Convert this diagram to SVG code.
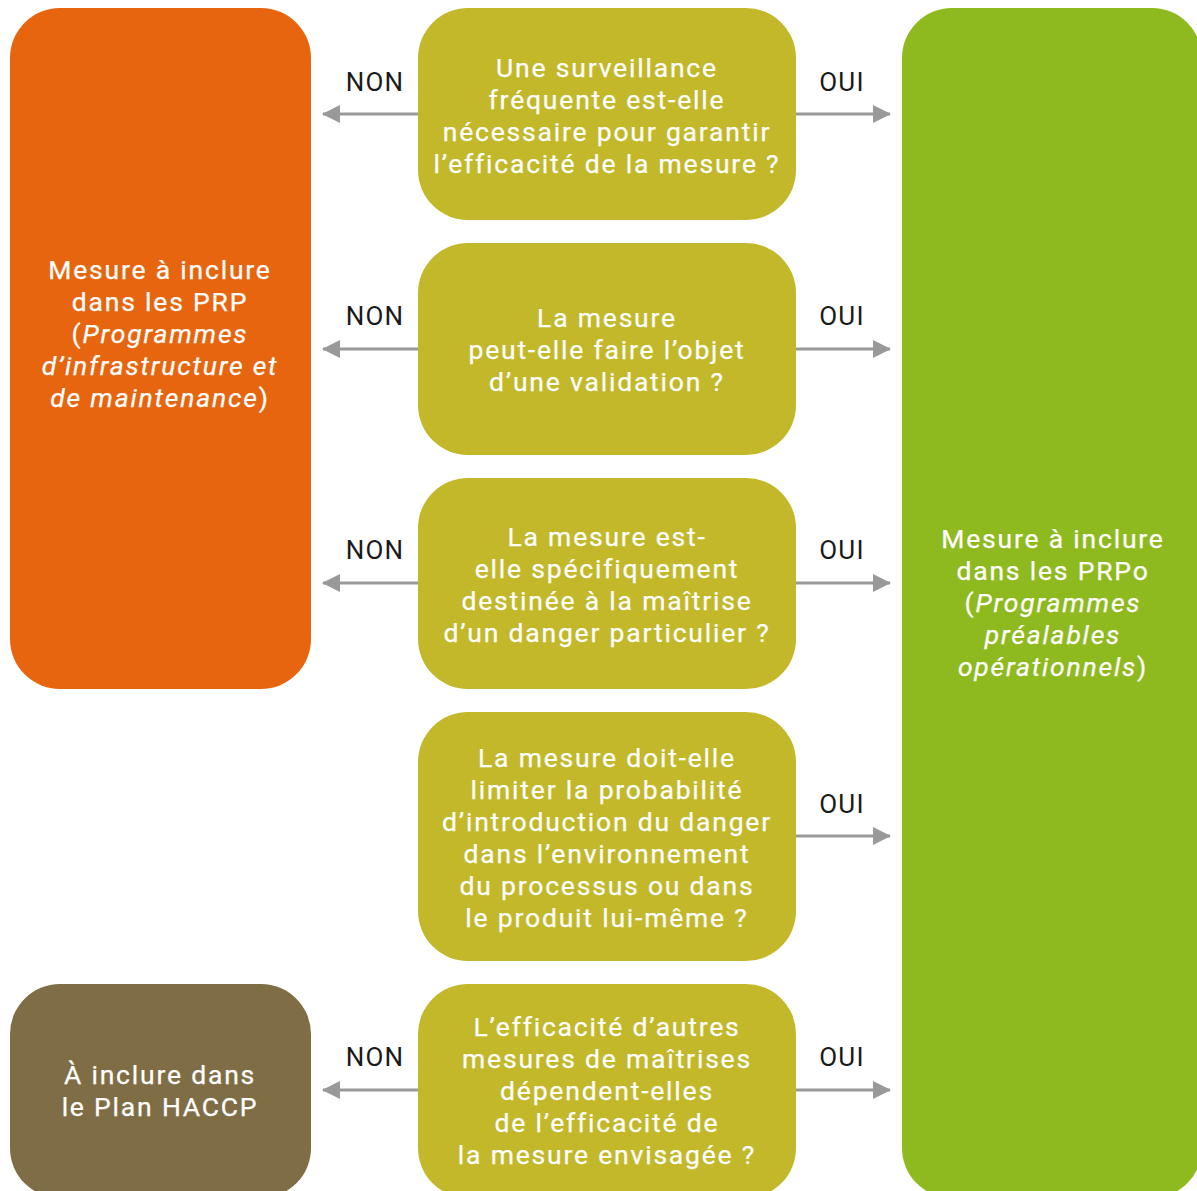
<svg xmlns="http://www.w3.org/2000/svg" width="1197" height="1191" viewBox="0 0 1197 1191">
  <defs>
    <style>
      .t { font-family: Roboto, "DejaVu Sans", sans-serif; font-size: 26.5px; fill: #ffffff; text-anchor: middle; letter-spacing: 1.8px; stroke: #ffffff; stroke-width: 0.25px; }
      .lbl { font-family: Roboto, "DejaVu Sans", sans-serif; font-size: 26px; fill: #1a1a1a; text-anchor: middle; letter-spacing: 1.2px; }
      .q { fill: #C2B82A; }
      .conn { stroke: #999999; stroke-width: 3; fill: none; }
      .i { font-style: italic; }
    </style>
    <marker id="ah" viewBox="0 0 18 18" refX="17" refY="9" markerWidth="18" markerHeight="18" markerUnits="userSpaceOnUse" orient="auto">
      <path d="M0,0 L18,9 L0,18 Z" fill="#999999"/>
    </marker>
  </defs>

  <rect width="1197" height="1191" fill="#ffffff"/>

  <!-- outcome: PRP -->
  <g id="prp">
    <rect x="10" y="8" width="301" height="681" rx="50" fill="#E8650F"/>
    <text class="t" x="160" y="279">Mesure à inclure</text>
    <text class="t" x="160" y="311">dans les PRP</text>
    <text class="t" x="160" y="343">(<tspan class="i">Programmes</tspan></text>
    <text class="t" x="160" y="375"><tspan class="i">d’infrastructure et</tspan></text>
    <text class="t" x="160" y="407"><tspan class="i">de maintenance</tspan>)</text>
  </g>

  <!-- outcome: HACCP -->
  <g id="haccp">
    <rect x="10" y="984" width="301" height="214" rx="50" fill="#7F6E45"/>
    <text class="t" x="160" y="1084">À inclure dans</text>
    <text class="t" x="160" y="1116">le Plan HACCP</text>
  </g>

  <!-- outcome: PRPo -->
  <g id="prpo">
    <rect x="902" y="8" width="300" height="1190" rx="50" fill="#8FBA1F"/>
    <text class="t" x="1053" y="548">Mesure à inclure</text>
    <text class="t" x="1053" y="580">dans les PRPo</text>
    <text class="t" x="1053" y="612">(<tspan class="i">Programmes</tspan></text>
    <text class="t" x="1053" y="644"><tspan class="i">préalables</tspan></text>
    <text class="t" x="1053" y="676"><tspan class="i">opérationnels</tspan>)</text>
  </g>

  <!-- questions -->
  <g id="q1">
    <rect class="q" x="418" y="8" width="378" height="212" rx="50"/>
    <text class="t" x="607" y="77">Une surveillance</text>
    <text class="t" x="607" y="109">fréquente est-elle</text>
    <text class="t" x="607" y="141">nécessaire pour garantir</text>
    <text class="t" x="607" y="173">l’efficacité de la mesure ?</text>
  </g>
  <g id="q2">
    <rect class="q" x="418" y="243" width="378" height="212" rx="50"/>
    <text class="t" x="607" y="327">La mesure</text>
    <text class="t" x="607" y="359">peut-elle faire l’objet</text>
    <text class="t" x="607" y="391">d’une validation ?</text>
  </g>
  <g id="q3">
    <rect class="q" x="418" y="478" width="378" height="211" rx="50"/>
    <text class="t" x="607" y="546">La mesure est-</text>
    <text class="t" x="607" y="578">elle spécifiquement</text>
    <text class="t" x="607" y="610">destinée à la maîtrise</text>
    <text class="t" x="607" y="642">d’un danger particulier ?</text>
  </g>
  <g id="q4">
    <rect class="q" x="418" y="712" width="378" height="249" rx="50"/>
    <text class="t" x="607" y="767">La mesure doit-elle</text>
    <text class="t" x="607" y="799">limiter la probabilité</text>
    <text class="t" x="607" y="831">d’introduction du danger</text>
    <text class="t" x="607" y="863">dans l’environnement</text>
    <text class="t" x="607" y="895">du processus ou dans</text>
    <text class="t" x="607" y="927">le produit lui-même ?</text>
  </g>
  <g id="q5">
    <rect class="q" x="418" y="984" width="378" height="214" rx="50"/>
    <text class="t" x="607" y="1036">L’efficacité d’autres</text>
    <text class="t" x="607" y="1068">mesures de maîtrises</text>
    <text class="t" x="607" y="1100">dépendent-elles</text>
    <text class="t" x="607" y="1132">de l’efficacité de</text>
    <text class="t" x="607" y="1164">la mesure envisagée ?</text>
  </g>

  <!-- connectors -->
  <g id="connectors">
    <line class="conn" x1="418" y1="114" x2="323" y2="114" marker-end="url(#ah)"/>
    <line class="conn" x1="796" y1="114" x2="890" y2="114" marker-end="url(#ah)"/>
    <line class="conn" x1="418" y1="349" x2="323" y2="349" marker-end="url(#ah)"/>
    <line class="conn" x1="796" y1="349" x2="890" y2="349" marker-end="url(#ah)"/>
    <line class="conn" x1="418" y1="583" x2="323" y2="583" marker-end="url(#ah)"/>
    <line class="conn" x1="796" y1="583" x2="890" y2="583" marker-end="url(#ah)"/>
    <line class="conn" x1="796" y1="836" x2="890" y2="836" marker-end="url(#ah)"/>
    <line class="conn" x1="418" y1="1090" x2="323" y2="1090" marker-end="url(#ah)"/>
    <line class="conn" x1="796" y1="1090" x2="890" y2="1090" marker-end="url(#ah)"/>

    <text class="lbl" x="375" y="91">NON</text>
    <text class="lbl" x="842" y="91">OUI</text>
    <text class="lbl" x="375" y="325">NON</text>
    <text class="lbl" x="842" y="325">OUI</text>
    <text class="lbl" x="375" y="559">NON</text>
    <text class="lbl" x="842" y="559">OUI</text>
    <text class="lbl" x="842" y="813">OUI</text>
    <text class="lbl" x="375" y="1066">NON</text>
    <text class="lbl" x="842" y="1066">OUI</text>
  </g>
</svg>
